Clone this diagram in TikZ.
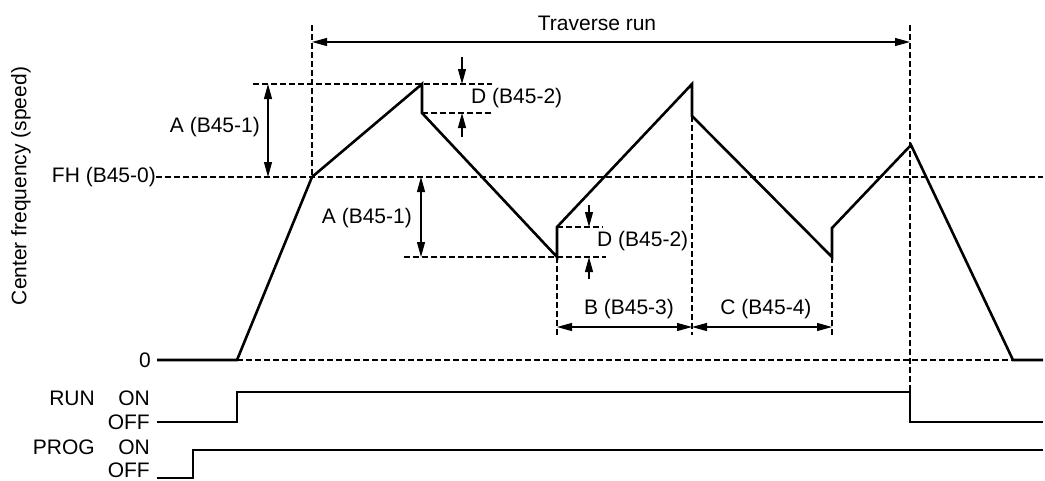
\documentclass[tikz,border=0pt]{standalone}
\usepackage{fontspec}
\setmainfont{Liberation Sans}
\usepackage{tikz}
\usetikzlibrary{positioning, arrows.meta, calc}

\begin{document}
\begin{tikzpicture}[
    x=1pt, y=-1pt,
    lbl/.style={inner sep=0pt, font=\fontsize{21}{25}\selectfont},
    curve/.style={line width=2.6pt, line join=miter},
    signal/.style={line width=2.6pt},
    guide/.style={line width=1.1pt, dash pattern=on 6pt off 3pt},
    dim/.style={<->, >={Triangle[length=15pt, width=8pt]}, line width=1.1pt},
    tip/.style={->, >={Triangle[length=15pt, width=8pt]}, line width=1.1pt}
]
\useasboundingbox (0,0) rectangle (1045,480);

% Etichette a sinistra
\node[lbl, rotate=90] (ylbl) at (21,186) {Center frequency (speed)};
\node[lbl, anchor=east] (fhlbl) at (156,177) {FH (B45-0)};
\node[lbl, anchor=east] (zero) at (151,360) {0};
\node[lbl, anchor=east] (run) at (95,398) {RUN};
\node[lbl, anchor=east] (runon) at (150,398) {ON};
\node[lbl, anchor=east] (runoff) at (150,422) {OFF};
\node[lbl, anchor=east] (prog) at (95,447) {PROG};
\node[lbl, anchor=east] (progon) at (150,447) {ON};
\node[lbl, anchor=east] (progoff) at (150,470) {OFF};

% Punti della curva
\coordinate (z0) at (157,360);
\coordinate (z1) at (237,360);
\coordinate (fh) at (312,177);
\coordinate (p1) at (422,84);
\coordinate (p1d) at (422,113);
\coordinate (v1) at (557,257);
\coordinate (v1u) at (557,227);
\coordinate (p2) at (692,84);
\coordinate (p2d) at (692,116);
\coordinate (v2) at (832,257);
\coordinate (v2u) at (832,228);
\coordinate (p3) at (911,145);
\coordinate (z2) at (1013,360);
\coordinate (z3) at (1043,360);

% Linee guida
\coordinate (fhend) at (1043,177);
\draw[guide] (fhlbl.east) -- (fh) -- (fhend);
\draw[guide] (z1) -- (z2);
\coordinate (top1) at (253,84);
\coordinate (top1r) at (492,84);
\coordinate (d1r) at (492,113);
\draw[guide] (top1) -- (p1) -- (top1r);
\draw[guide] (p1d) -- (d1r);
\coordinate (low1) at (404,257);
\coordinate (low1r) at (606,257);
\coordinate (d2r) at (603,227);
\draw[guide] (low1) -- (v1) -- (low1r);
\draw[guide] (v1u) -- (d2r);
\coordinate (tl) at (312,25);
\coordinate (tr) at (910,25);
\coordinate (runfall) at (910,392);
\draw[guide] (tl) -- (fh);
\draw[guide] (tr) -- (runfall);
\coordinate (b1) at (557,335);
\coordinate (b2) at (692,335);
\coordinate (b3) at (832,335);
\draw[guide] (v1) -- (b1);
\draw[guide] (p2d) -- (b2);
\draw[guide] (v2) -- (b3);

% Curva della frequenza
\draw[curve] (zero.east) ++(6,0) -- (z1) -- (fh) -- (p1) -- (p1d) -- (v1) -- (v1u)
    -- (p2) -- (p2d) -- (v2) -- (v2u) -- (p3) -- (z2) -- (z3);

% Quote
\coordinate (trl) at (312,42);
\coordinate (trr) at (910,42);
\draw[dim] (trl) -- (trr);
\node[lbl] (trav) at (597,23) {Traverse run};

\coordinate (a1t) at (268,84);
\coordinate (a1b) at (268,177);
\draw[dim] (a1t) -- (a1b);
\node[lbl, anchor=east] (alab1) at (260,127) {A (B45-1)};

\coordinate (d1a) at (462,57);
\coordinate (d1b) at (462,84);
\coordinate (d1c) at (462,137);
\coordinate (d1d) at (462,113);
\draw[tip] (d1a) -- (d1b);
\draw[tip] (d1c) -- (d1d);
\node[lbl, anchor=west] (dlab1) at (471,98) {D (B45-2)};

\coordinate (a2t) at (421,177);
\coordinate (a2b) at (421,257);
\draw[dim] (a2t) -- (a2b);
\node[lbl, anchor=east] (alab2) at (412,218) {A (B45-1)};

\coordinate (d2a) at (589,205);
\coordinate (d2b) at (589,227);
\coordinate (d2c) at (589,279);
\coordinate (d2d) at (589,257);
\draw[tip] (d2a) -- (d2b);
\draw[tip] (d2c) -- (d2d);
\node[lbl, anchor=west] (dlab2) at (597,241) {D (B45-2)};

\coordinate (bl) at (557,327);
\coordinate (bm) at (692,327);
\coordinate (br) at (832,327);
\draw[dim] (bl) -- (bm);
\draw[dim] (bm) -- (br);
\node[lbl] (blab) at (629,309) {B (B45-3)};
\node[lbl] (clab) at (766,309) {C (B45-4)};

% Segnali RUN e PROG
\coordinate (r0) at (157,422);
\coordinate (r1) at (237,422);
\coordinate (r2) at (237,392);
\coordinate (r3) at (910,422);
\coordinate (r4) at (1043,422);
\draw[signal] (r0) -- (r1) -- (r2) -- (runfall) -- (r3) -- (r4);
\coordinate (g0) at (157,478);
\coordinate (g1) at (193,478);
\coordinate (g2) at (193,450);
\coordinate (g3) at (1043,450);
\draw[signal] (g0) -- (g1) -- (g2) -- (g3);

\end{tikzpicture}
\end{document}
